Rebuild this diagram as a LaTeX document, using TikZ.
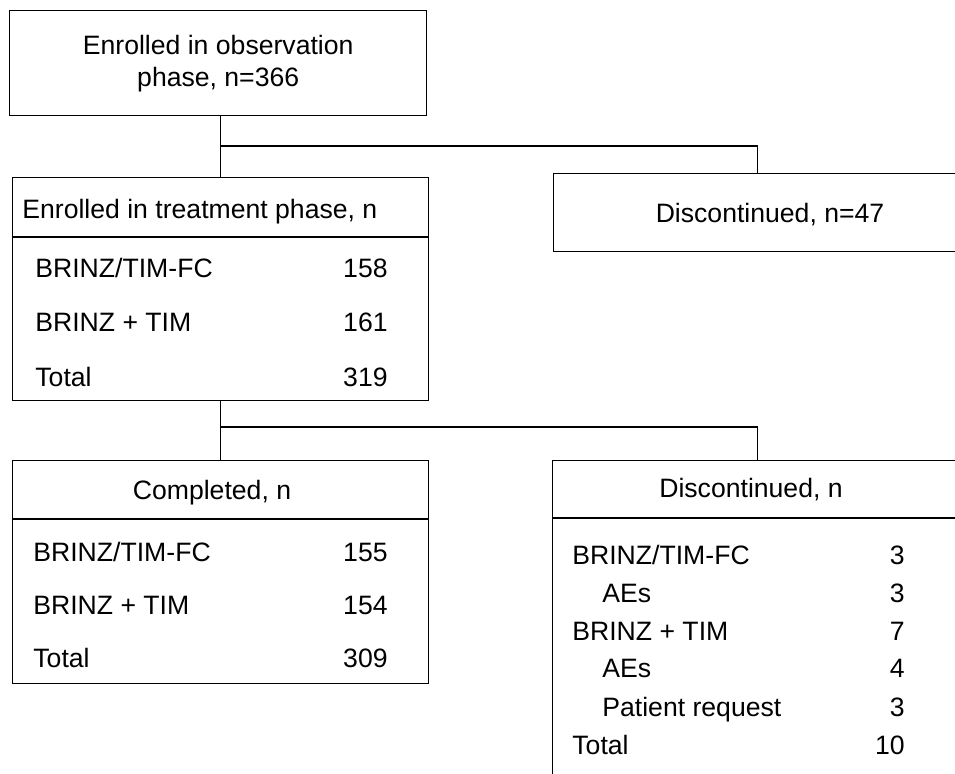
\documentclass[tikz,border=0pt]{standalone}
\usepackage{fontspec}
\setmainfont{Liberation Sans}
\tikzset{
  box/.style={draw, line width=0.7pt, rectangle, inner sep=0pt, anchor=north west},
  link/.style={line width=0.7pt},
  lbl/.style={inner sep=0pt, anchor=base west},
  num/.style={inner sep=0pt, anchor=base east},
  head/.style={inner sep=0pt, anchor=base}
}
\begin{document}
\begin{tikzpicture}[x=0.5pt, y=-0.5pt, font=\fontsize{13.3}{16}\selectfont]
    \useasboundingbox (0,0) rectangle (955,774);
    \clip (0,0) rectangle (955,774);
    % boxes
    \node[box, minimum width=208.5pt, minimum height=52.5pt, align=center] (obs) at (9,10)
        {Enrolled in observation\\phase, n=366};
    \node[box, minimum width=208pt, minimum height=111.5pt] (treat) at (12,177) {};
    \node[box, minimum width=204pt, minimum height=39pt] (disc1) at (553,173) {};
    \node[box, minimum width=208pt, minimum height=111.5pt] (comp) at (12,460) {};
    \node[box, minimum width=205pt, minimum height=170pt] (disc2) at (552,460) {};
    % header lines
    \draw[link] (treat.west |- 0,237) -- (treat.east |- 0,237);
    \draw[link] (comp.west |- 0,519) -- (comp.east |- 0,519);
    \draw[link] (disc2.west |- 0,518) -- (disc2.east |- 0,518);
    % connectors
    \coordinate (fork1) at (220,146);
    \coordinate (fork2) at (220,427);
    \draw[link] (treat.north |- obs.south) -- (treat.north);
    \draw[link] (fork1) -| (disc1.north);
    \draw[link] (treat.south) -- (comp.north);
    \draw[link] (fork2) -| (disc2.north);
    % treatment phase
    \node[lbl] (treath) at (22,219) {Enrolled in treatment phase, n};
    \node[lbl] (t1) at (35,278) {BRINZ/TIM-FC};
        \node[num] (t1n) at (388,278) {158};
    \node[lbl] (t2) at (35,332) {BRINZ + TIM};
        \node[num] (t2n) at (388,332) {161};
    \node[lbl] (t3) at (35,387) {Total};
        \node[num] (t3n) at (388,387) {319};
    % discontinued before treatment
    \node[head] (disc1h) at (770,223) {Discontinued, n=47};
    % completed
    \node[head] (comph) at (212,500) {Completed, n};
    \node[lbl] (c1) at (33,562) {BRINZ/TIM-FC};
        \node[num] (c1n) at (388,562) {155};
    \node[lbl] (c2) at (33,615) {BRINZ + TIM};
        \node[num] (c2n) at (388,615) {154};
    \node[lbl] (c3) at (33,668) {Total};
        \node[num] (c3n) at (388,668) {309};
    % discontinued in treatment
    \node[head] (disc2h) at (751,498) {Discontinued, n};
    \node[lbl] (d1) at (572,565) {BRINZ/TIM-FC};
        \node[num] (d1n) at (905,565) {3};
    \node[lbl] (d2) at (602,603) {AEs};
        \node[num] (d2n) at (905,603) {3};
    \node[lbl] (d3) at (572,641) {BRINZ + TIM};
        \node[num] (d3n) at (905,641) {7};
    \node[lbl] (d4) at (602,678) {AEs};
        \node[num] (d4n) at (905,678) {4};
    \node[lbl] (d5) at (602,717) {Patient request};
        \node[num] (d5n) at (905,717) {3};
    \node[lbl] (d6) at (572,755) {Total};
        \node[num] (d6n) at (905,755) {10};
\end{tikzpicture}
\end{document}
